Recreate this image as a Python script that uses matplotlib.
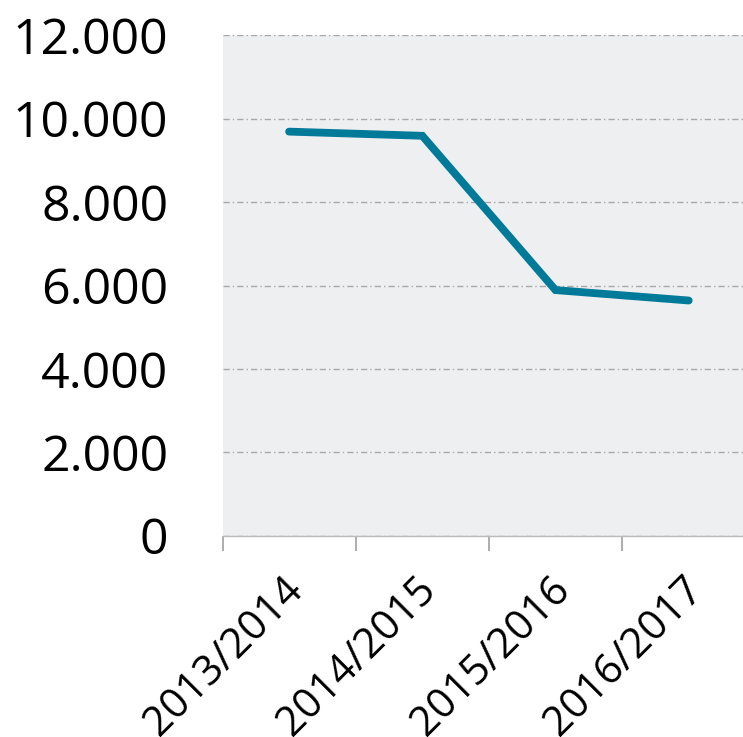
import matplotlib
matplotlib.use("Agg")
from matplotlib import pyplot as plt
from matplotlib.ticker import FuncFormatter, FixedLocator
from matplotlib.transforms import ScaledTranslation

seasons = ['2013/2014', '2014/2015', '2015/2016', '2016/2017']
values = [9690, 9590, 5890, 5640]
y_ticks = [0, 2000, 4000, 6000, 8000, 10000, 12000]

plt.rcParams['font.family'] = ['Open Sans', 'DejaVu Sans']

fig = plt.figure(figsize=(7.43, 7.37), dpi=100)
# plot area: left edge 222 px, one category = 133.2 px, runs past the right edge
ax = fig.add_axes([222.5 / 743, (737 - 535.7) / 737, 1 - 222.5 / 743, 500.4 / 737])
ax.set_facecolor('#eeeff1')

x = list(range(len(seasons)))
ax.plot(x, values, color='#007a99', linewidth=5.6, solid_capstyle='round',
        solid_joinstyle='miter', zorder=3)

ax.set_xlim(-0.5, (743 - 222.5) / 133.2 - 0.5)
ax.set_ylim(0, 12000)

ax.set_yticks(y_ticks)
ax.yaxis.set_major_formatter(FuncFormatter(lambda v, p: f'{int(v):,}'.replace(',', '.')))
ax.tick_params(axis='y', length=0, pad=39, labelsize=36)
ax.grid(axis='y', color='#a8a8a8', linewidth=1, linestyle=(0, (4.5, 2.2, 1, 2.2)))
ax.set_axisbelow(True)

ax.set_xticks(x)
ax.set_xticklabels(seasons, rotation=45, ha='right', va='top', rotation_mode='anchor')
ax.xaxis.set_minor_locator(FixedLocator([i - 0.5 for i in x]))
ax.tick_params(axis='x', which='major', length=0, pad=24, labelsize=30)
ax.tick_params(axis='x', which='minor', length=11, width=1.2, color='#a0a0a0')

# nudge the rotated labels a little to the left (after tick_params, which resets transforms)
shift = ScaledTranslation(-7 / 100, 0, fig.dpi_scale_trans)
for lab in ax.get_xticklabels():
    lab.set_transform(lab.get_transform() + shift)

for s in ['left', 'right', 'top']:
    ax.spines[s].set_visible(False)
ax.spines['bottom'].set_color('#bbbbbb')
ax.spines['bottom'].set_linewidth(1)

fig.savefig('out.png', dpi=100)
